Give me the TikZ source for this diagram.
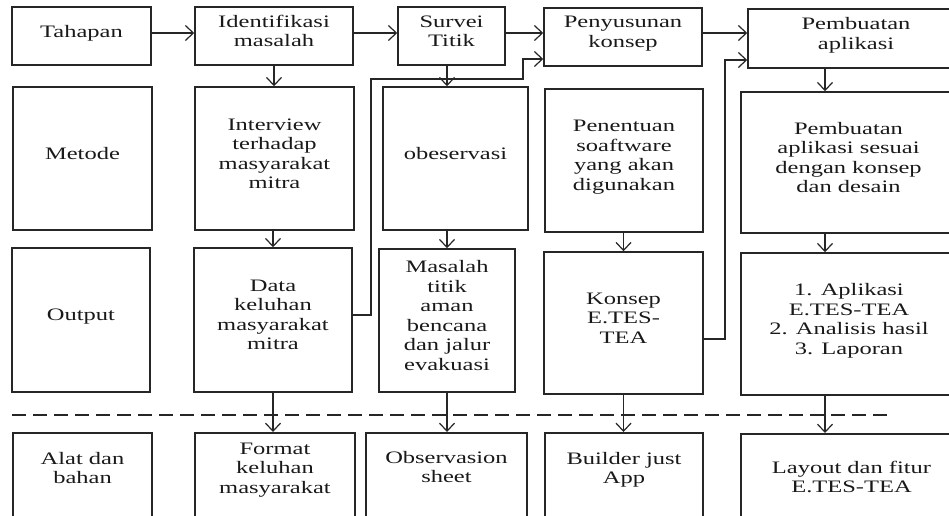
\documentclass[tikz,border=0pt]{standalone}
\usepackage{fontspec}
\setmainfont{Liberation Serif}[FakeStretch=1.4]
\usepackage{tikz}
\usetikzlibrary{arrows.meta}

\begin{document}
\begin{tikzpicture}[x=1pt, y=-1pt,
        cell/.style={draw=black!85, line width=1.5pt, align=center, inner sep=2pt,
            text=black!90, font=\fontsize{17.5}{19.5}\selectfont,
            execute at end node={\rule[-10pt]{0pt}{0pt}}},
        cellbox/.style 2 args={cell, minimum width=#1pt, minimum height=#2pt},
        celltext/.style={align=center, inner sep=0pt, text=black!90,
            font=\fontsize{17.5}{19.5}\selectfont},
        arr/.style={draw=black!85, line width=1.2pt, -{Straight Barb[length=8pt,width=15pt]}},
        sepline/.style={draw=black!85, line width=2.2pt, dash pattern=on 14pt off 7pt}]
        \useasboundingbox (0,0) rectangle (949,515);
        \clip (0,0) rectangle (949,515);

        % Tahapan
        \node[cellbox={139}{58}] (tahapan) at (81.5,36) {Tahapan};
        \node[cellbox={158}{58}] (identifikasi) at (274,36) {Identifikasi\\masalah};
        \node[cellbox={107}{58}] (survei) at (451.5,36) {Survei\\Titik};
        \node[cellbox={158}{58}] (penyusunan) at (623,37) {Penyusunan\\konsep};
        \node[cellbox={216}{59}] (pembuatan) at (856,38.5) {Pembuatan\\aplikasi};

        % Metode
        \node[cellbox={139}{143}] (metode) at (82.5,158.5) {Metode};
        \node[cellbox={159}{143}] (interview) at (274.5,158.5) {Interview\\terhadap\\masyarakat\\mitra};
        \node[cellbox={145}{143}] (observasi) at (455.5,158.5) {obeservasi};
        \node[cellbox={158}{143}] (penentuan) at (624,160.5) {Penentuan\\soaftware\\yang akan\\digunakan};
        \node[cellbox={215}{141}] (pembuatanapp) at (848.5,162.5) {Pembuatan\\aplikasi sesuai\\dengan konsep\\dan desain};

        % Output
        \node[cellbox={138}{144}] (output) at (81,320) {Output};
        \node[cellbox={158}{144}] (data) at (273,320) {Data\\keluhan\\masyarakat\\mitra};
        \node[cellbox={136}{143}] (masalah) at (447,320.5) {Masalah\\titik\\aman\\bencana\\dan jalur\\evakuasi};
        \node[cellbox={159}{142}] (konsep) at (623.5,323) {Konsep\\E.TES-\\TEA};
        \node[cellbox={216}{142}] (hasil) at (849,324) {1. Aplikasi\\E.TES-TEA\\2. Analisis hasil\\3. Laporan};

        % Alat dan bahan
        \node[cellbox={139}{120}, anchor=north] (alat) at (82.5,432) {};
        \node[cellbox={160}{120}, anchor=north] (format) at (275,432) {};
        \node[cellbox={161}{120}, anchor=north] (observation) at (446.5,432) {};
        \node[cellbox={158}{120}, anchor=north] (builder) at (624,432) {};
        \node[cellbox={221}{120}, anchor=north] (layout) at (851.5,433) {};
        \node[celltext] (alatT) at (82.5,468) {Alat dan\\bahan};
        \node[celltext] (formatT) at (275,470) {Format\\keluhan\\masyarakat};
        \node[celltext] (observationT) at (446.5,467) {Observasion\\sheet};
        \node[celltext] (builderT) at (624,470) {Builder just\\App};
        \node[celltext] (layoutT) at (851.5,477) {Layout dan fitur\\E.TES-TEA};

        \draw[sepline] (12,415) -- (893,415);

        \coordinate (colE) at (825,0);
        \coordinate (bendA) at (371,79);
        \coordinate (bendB) at (523,59);
        \coordinate (bendC) at (725,60);

        \draw[arr] ([yshift=3pt]tahapan.east) -- ([yshift=3pt]identifikasi.west);
        \draw[arr] ([yshift=3pt]identifikasi.east) -- ([yshift=3pt]survei.west);
        \draw[arr] ([yshift=3pt]survei.east) -- ([yshift=3pt]survei.east -| penyusunan.west);
        \draw[arr] ([yshift=4pt]penyusunan.east) -- ([yshift=4pt]penyusunan.east -| pembuatan.west);

        \draw[arr] (identifikasi.south) -- (identifikasi.south |- interview.north);
        \draw[arr] (survei.south -| masalah.north) -- (observasi.north -| masalah.north);
        \draw[arr] (pembuatan.south -| colE) -- (pembuatanapp.north -| colE);

        \draw[arr] (data.north |- interview.south) -- (data.north);
        \draw[arr] (masalah.north |- observasi.south) -- (masalah.north);
        \draw[arr] (konsep.north |- penentuan.south) -- (konsep.north);
        \draw[arr] (pembuatanapp.south -| colE) -- (hasil.north -| colE);

        \draw[arr] (data.south) -- (data.south |- format.north);
        \draw[arr] (masalah.south) -- (masalah.south |- observation.north);
        \draw[arr] (konsep.south) -- (konsep.south |- builder.north);
        \draw[arr] (hasil.south -| colE) -- (layout.north -| colE);

        \draw[arr] ([yshift=5pt]data.east) -| (bendA) -| (bendB) -- (bendB -| penyusunan.west);
        \draw[arr] ([yshift=-16pt]konsep.east) -| (bendC) -- (bendC -| pembuatan.west);
    \end{tikzpicture}
\end{document}
